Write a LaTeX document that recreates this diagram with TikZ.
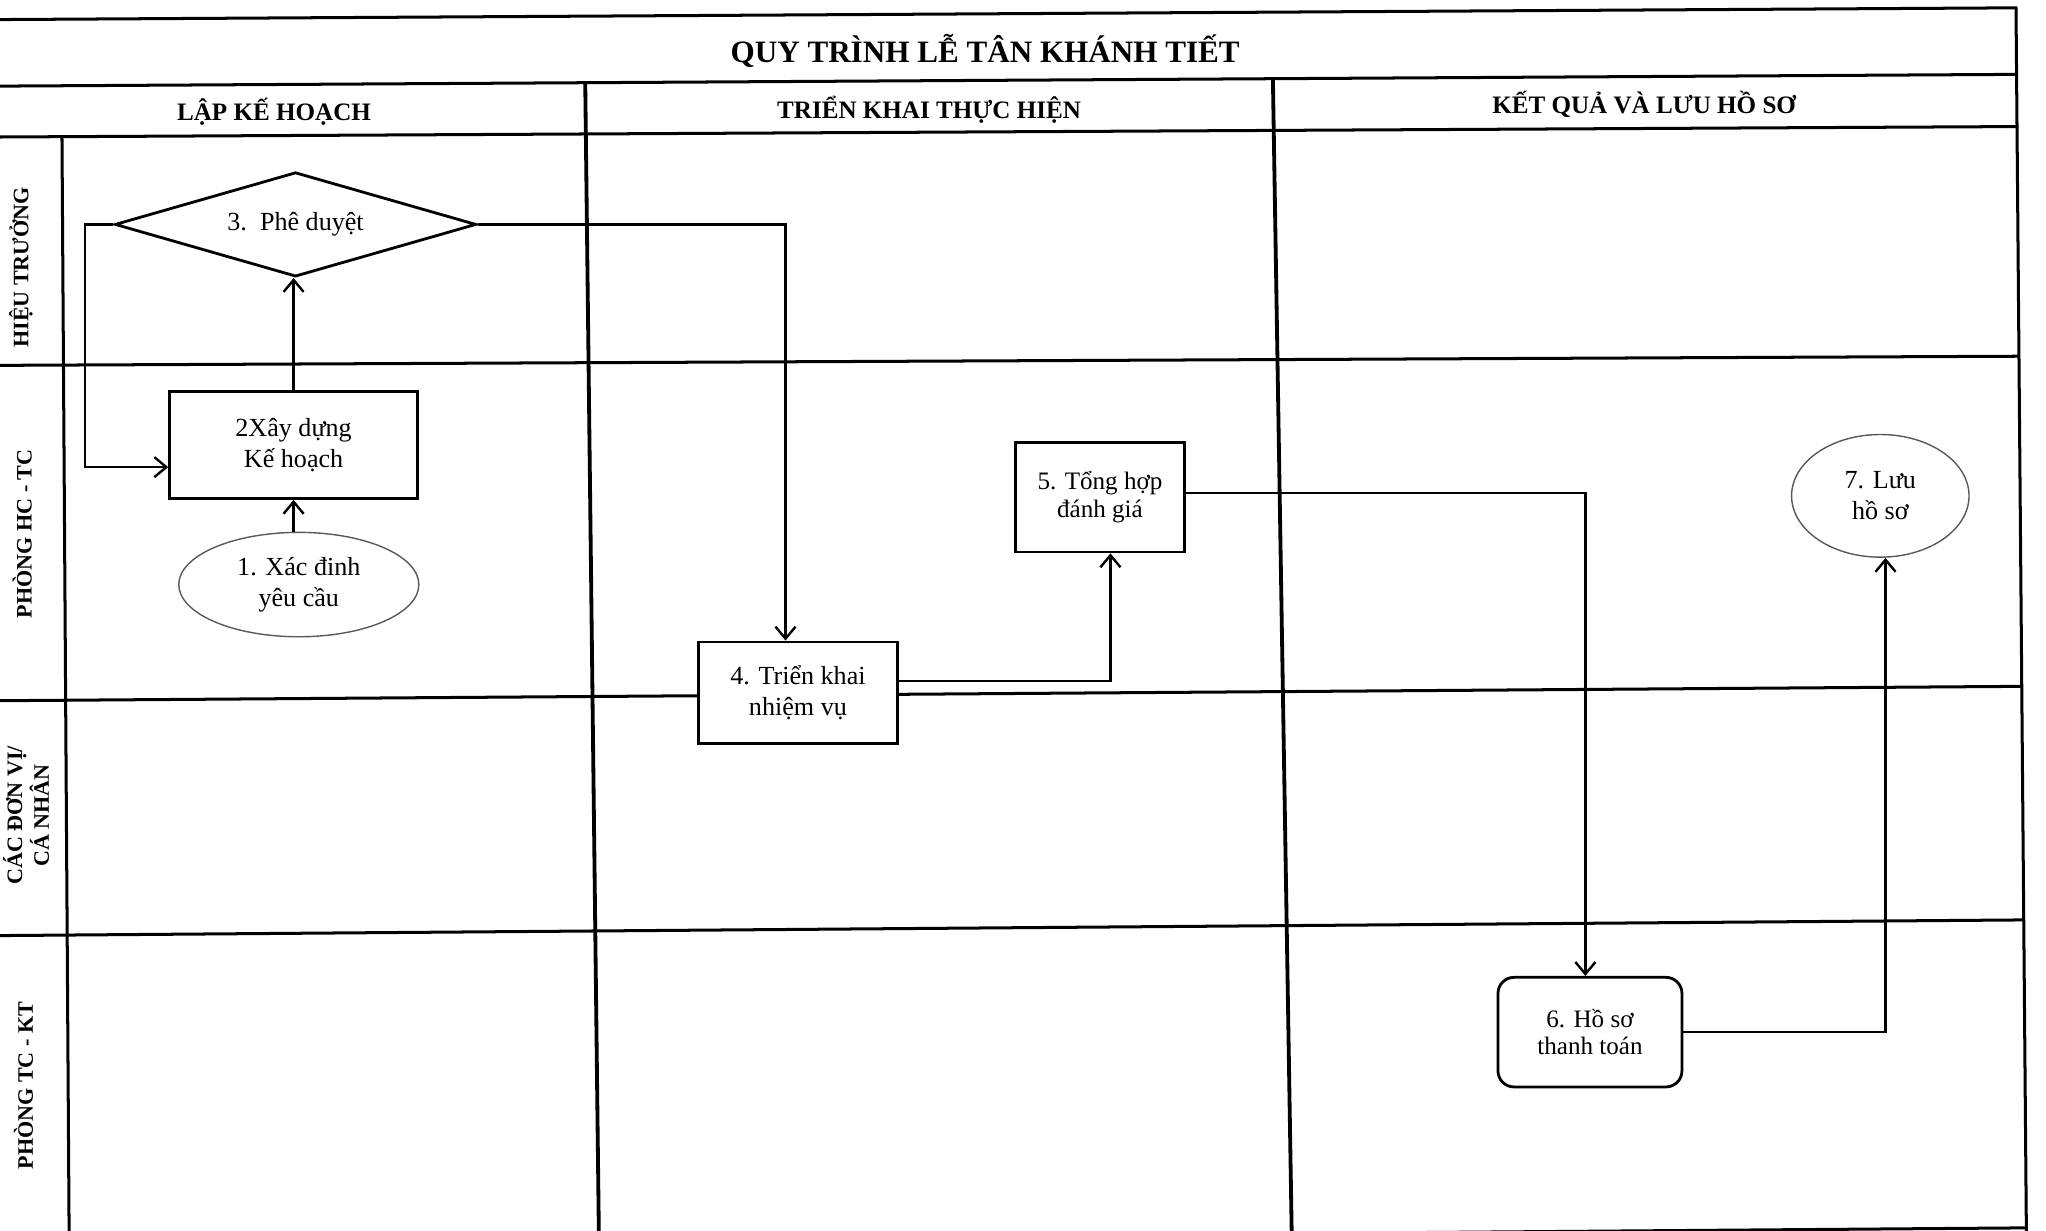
\documentclass[tikz,border=0pt]{standalone}
\usepackage{fontspec}
\setmainfont{Liberation Serif}
\usetikzlibrary{shapes.geometric,arrows.meta,calc}
\newcommand\myTitle{\fontsize{15.5}{18}\selectfont\bfseries}
\newcommand\myHdr{\fontsize{12.5}{15}\selectfont\bfseries}
\newcommand\myLane{\fontsize{11}{13.4}\selectfont\bfseries}
\newcommand\myBody{\fontsize{13}{15.6}\selectfont}
\newcommand\mySmall{\fontsize{12.5}{13.8}\selectfont}
\begin{document}
\begin{tikzpicture}[x=0.65pt,y=-0.65pt,
  gridline/.style={line width=1.5pt},
  colline/.style={line width=1.9pt},
  proc/.style={draw, fill=white, line width=1.4pt, align=center, inner sep=0pt, font=\myBody},
  term/.style={ellipse, draw=black!65, fill=white, line width=0.7pt, align=center, inner sep=0pt, font=\myBody},
  conn/.style={line width=1.2pt},
  arr/.style={conn, -{Straight Barb[length=6pt,width=10pt]}},
  hdr/.style={font=\myHdr},
  lane/.style={rotate=90, font=\myLane, align=center}]
\useasboundingbox (0,0) rectangle (1568,943);
\fill[white] (0,0) rectangle (1568,943);
% table
\draw[gridline] (0,15) -- (1546,6);
\draw[gridline] (0,66) -- (1546,57);
\draw[gridline] (0,105) -- (1546,97);
\draw[gridline] (0,280) -- (1548,273);
\draw[gridline] (0,537) -- (1549,526);
\draw[gridline] (0,717) -- (1551,705);
\draw[gridline] (0,953) -- (1553,941);
\draw[gridline] (1545,6) -- (1553,950);
\draw[gridline] (47.5,105) -- (53,950);
\draw[colline] (448.5,63) -- (459,950);
\draw[colline] (975.5,60) -- (990,950);
% headings
\node[font=\myTitle] (title) at (755,39) {QUY TRÌNH LỄ TÂN KHÁNH TIẾT};
\node[hdr] (h1) at (210,86) {LẬP KẾ HOẠCH};
\node[hdr] (h2) at (712,84) {TRIỂN KHAI THỰC HIỆN};
\node[hdr] (h3) at (1260,80) {KẾT QUẢ VÀ LƯU HỒ SƠ};
\node[lane] (l1) at (16,205) {HIỆU TRƯỞNG};
\node[lane] (l2) at (17,409) {PHÒNG HC - TC};
\node[lane] (l3) at (20,625) {CÁC ĐƠN VỊ/\\CÁ NHÂN};
\node[lane] (l4) at (18,832) {PHÒNG TC - KT};
% nodes
\node[proc, diamond, aspect=3.5, minimum width=277*0.65pt, minimum height=80*0.65pt] (d3) at (226.5,172) {3.\ \ Phê duyệt};
\node[proc, minimum width=190*0.65pt, minimum height=82*0.65pt] (b2) at (225,341) {2Xây dựng\\Kế hoạch};
\node[term, minimum width=184*0.65pt, minimum height=80*0.65pt] (e1) at (229,448) {1. Xác đinh\\yêu cầu};
\node[proc, minimum width=153*0.65pt, minimum height=78*0.65pt] (b4) at (611.5,531) {4. Triển khai\\nhiệm vụ};
\node[proc, font=\mySmall, minimum width=130*0.65pt, minimum height=84*0.65pt] (b5) at (843,381) {5. Tổng hợp\\đánh giá};
\node[proc, font=\mySmall, rounded corners=8pt, minimum width=141*0.65pt, minimum height=84*0.65pt] (b6) at (1218.5,791) {6. Hồ sơ\\thanh toán};
\node[term, minimum width=136*0.65pt, minimum height=94*0.65pt] (e7) at (1441,380) {7. Lưu\\hồ sơ};
% connectors
\draw[arr] (e1.north -| b2.south) -- (b2.south);
\draw[arr] (b2.north) -- (b2.north |- d3.south);
\draw[arr] (d3.west) -- ++(-22,0) |- ($(b2.west)+(0,17)$);
\draw[arr] (d3.east) -| ($(b4.north)+(-9.5,0)$);
\draw[arr] ($(b4.east)+(0,-9)$) -| ($(b5.south)+(8,0)$);
\draw[arr] ($(b5.east)+(0,-3)$) -| ($(b6.north)+(-3.5,0)$);
\draw[arr] (b6.east) -| ($(e7.south)+(4,0)$);
\end{tikzpicture}
\end{document}
